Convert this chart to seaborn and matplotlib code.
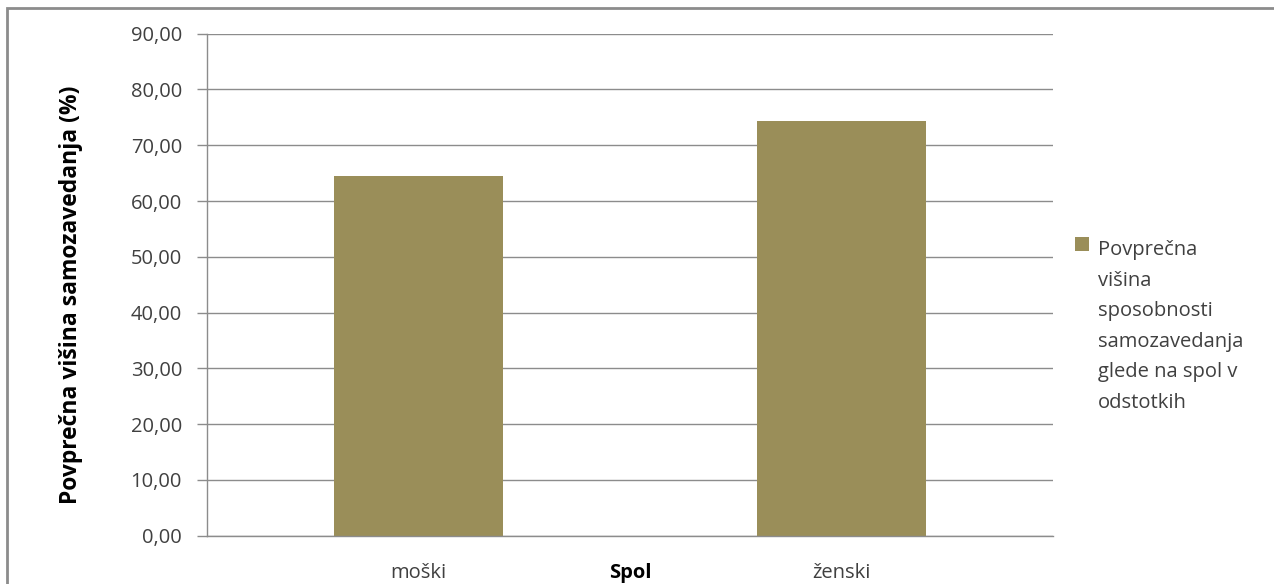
import matplotlib
matplotlib.use("Agg")
import matplotlib.pyplot as plt
import seaborn as sns
import pandas as pd
from matplotlib.patches import Rectangle
from matplotlib.legend_handler import HandlerPatch

# Data
categories = ["moški", "ženski"]
values = [64.5, 74.4]
series_label = "Povprečna\nvišina\nsposobnosti\nsamozavedanja\nglede na spol v\nodstotkih"
y_ticks = [0, 10, 20, 30, 40, 50, 60, 70, 80, 90]
y_tick_labels = ["0,00", "10,00", "20,00", "30,00", "40,00", "50,00",
                 "60,00", "70,00", "80,00", "90,00"]
x_title = "Spol"
y_title = "Povprečna višina samozavedanja (%)"

bar_color = "#9A8E59"
text_color = "#404040"
grid_color = "#8C8C8C"
legend_linespacing = 1.7

sns.set_theme(style="white")
plt.rcParams["font.family"] = ["Open Sans", "DejaVu Sans"]

W, H = 1274, 584
fig = plt.figure(figsize=(W / 100, H / 100), dpi=100)
ax = fig.add_axes([207 / W, (H - 535.7) / H, 846 / W, (535.7 - 33.7) / H])

df = pd.DataFrame({"Spol": categories, "Vrednost": values})
sns.barplot(data=df, x="Spol", y="Vrednost", color=bar_color, width=0.4,
            saturation=1, label=series_label, linewidth=0, ax=ax)
if ax.get_legend() is not None:
    ax.get_legend().remove()

ax.set_xlim(-0.5, 1.5)
ax.set_ylim(0, 90)
ax.set_yticks(y_ticks)
ax.set_yticklabels(y_tick_labels)
ax.yaxis.grid(True, color=grid_color, linewidth=1)
ax.set_axisbelow(True)

for side in ("top", "right"):
    ax.spines[side].set_visible(False)
for side in ("left", "bottom"):
    ax.spines[side].set_color(grid_color)
    ax.spines[side].set_linewidth(1)

ax.tick_params(axis="y", length=7, width=1, color=grid_color, pad=11,
               labelsize=14.5, labelcolor=text_color, left=True)
ax.tick_params(axis="x", length=0, pad=20, labelsize=14.5, labelcolor=text_color)

ax.set_xlabel(x_title, fontsize=14.5, fontweight="bold", color="black", labelpad=-15)
ax.set_ylabel(y_title, fontsize=16.5, fontweight="bold", color="black")
ax.yaxis.set_label_coords(-0.147, 0.479)


# Legend square sits beside the first line of the wrapped label
class TopAlignedPatch(HandlerPatch):
    def create_artists(self, legend, orig_handle, xdescent, ydescent,
                       width, height, fontsize, trans):
        n_lines = series_label.count("\n") + 1
        step = fontsize * legend_linespacing
        shift = (n_lines - 1) / 2 * step
        size = fontsize * 0.72
        p = Rectangle((width - size, (height - size) / 2 + shift - 2),
                      size, size, facecolor=bar_color, edgecolor="none",
                      transform=trans)
        return [p]


handles, labels = ax.get_legend_handles_labels()
leg = fig.legend(handles[:1], labels[:1], loc="upper left",
                 bbox_to_anchor=(1055 / W, 1 - 222 / H), frameon=False,
                 fontsize=14.5, handlelength=0.8, handletextpad=0.45,
                 handler_map={handles[0]: TopAlignedPatch()})
for t in leg.get_texts():
    t.set_color(text_color)
    t.set_linespacing(legend_linespacing)

# Outer chart frame
fig.patches.append(Rectangle((7 / W, -0.01), (W - 7) / W + 0.01, 1 - 8 / H + 0.01,
                             transform=fig.transFigure, fill=False,
                             edgecolor="#8C8C8C", linewidth=2))

fig.savefig("out.png", dpi=100, facecolor="white")
